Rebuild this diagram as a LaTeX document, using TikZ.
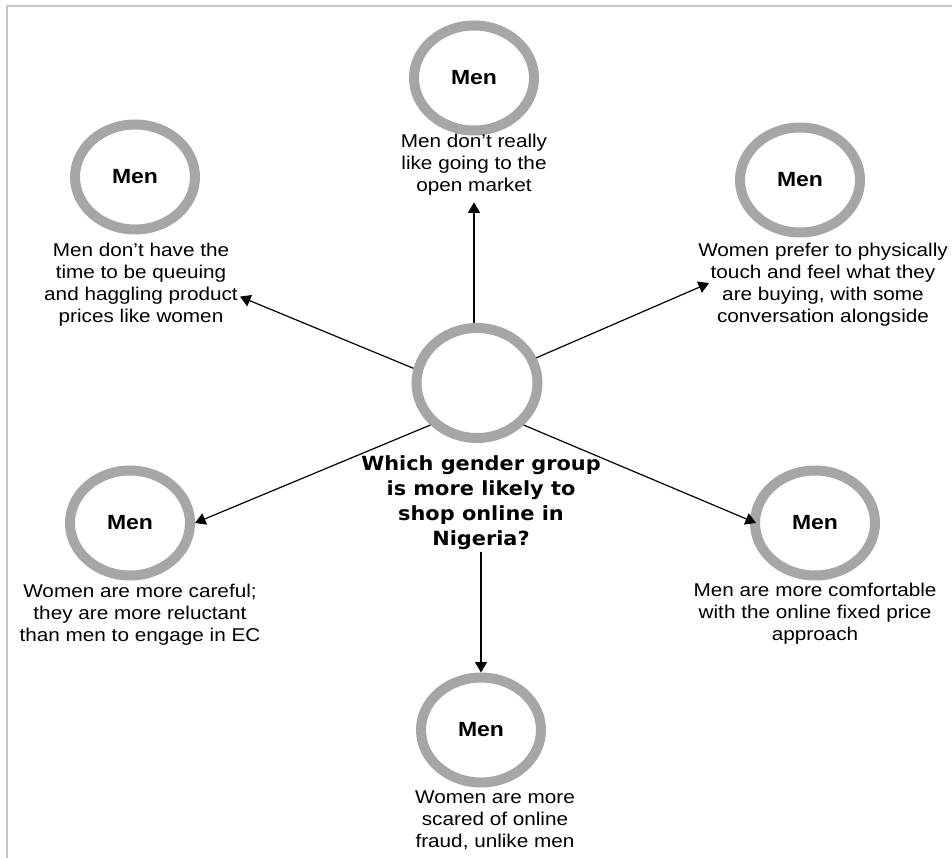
\documentclass[tikz,border=0pt]{standalone}
\usepackage{fontspec}
\setmainfont{Liberation Sans}[FakeStretch=1.12]
\newfontfamily\qfont{DejaVu Sans}[FakeStretch=1.07]
\usepackage{tikz}
\usetikzlibrary{arrows.meta,shapes.geometric}

\begin{document}
\begin{tikzpicture}[
  x=1pt, y=-1pt,
  >={Triangle[length=10.5pt,width=12pt]},
  ring/.style={ellipse, draw=gray!70, line width=10pt, minimum width=120pt, minimum height=105pt, inner sep=0pt, font=\fontsize{20.5}{24}\selectfont\bfseries},
  note/.style={align=center, inner sep=2pt, font=\fontsize{18.5}{22}\selectfont},
  ask/.style={align=center, inner sep=2pt, font=\qfont\fontsize{19.5}{25}\selectfont\bfseries},
  arr/.style={->, line width=1.2pt}
]
\useasboundingbox (0,0) rectangle (952,858);
\draw[gray!45, line width=2pt] (952,6) -- (7,6) -- (7,858);

\node[ring, minimum width=121pt, minimum height=110pt] (hub) at (477,383) {};
\node[ask] (q) at (481,502.5) {Which gender group\\is more likely to\\shop online in\\Nigeria?};

\node[ring] (m1) at (135,177) {Men};
\node[ring] (m2) at (474,78) {Men};
\node[ring] (m3) at (800,180) {Men};
\node[ring] (m4) at (130,523) {Men};
\node[ring] (m5) at (815,523) {Men};
\node[ring] (m6) at (481,730) {Men};

\node[note] (t1) at (141,284.5) {Men don't have the\\time to be queuing\\and haggling product\\prices like women};
\node[note] (t2) at (474,164.5) {Men don't really\\like going to the\\open market};
\node[note] (t3) at (823,285) {Women prefer to physically\\touch and feel what they\\are buying, with some\\conversation alongside};
\node[note] (t4) at (140,615) {Women are more careful;\\they are more reluctant\\than men to engage in EC};
\node[note] (t5) at (815,613.5) {Men are more comfortable\\with the online fixed price\\approach};
\node[note] (t6) at (495,820) {Women are more\\scared of online\\fraud, unlike men};

\draw[arr] (hub.north -| t2.south) -- ([yshift=-5pt]t2.south);
\draw[arr] (hub.167) -- (t1.-7);
\draw[arr] (hub.23) -- ([xshift=13pt,yshift=2pt]t3.west);
\draw[arr] (hub.222) -- (m4.east);
\draw[arr] (hub.318) -- ([xshift=6pt]m5.west);
\draw[arr] (q.south) -- (m6.north);
\end{tikzpicture}
\end{document}
